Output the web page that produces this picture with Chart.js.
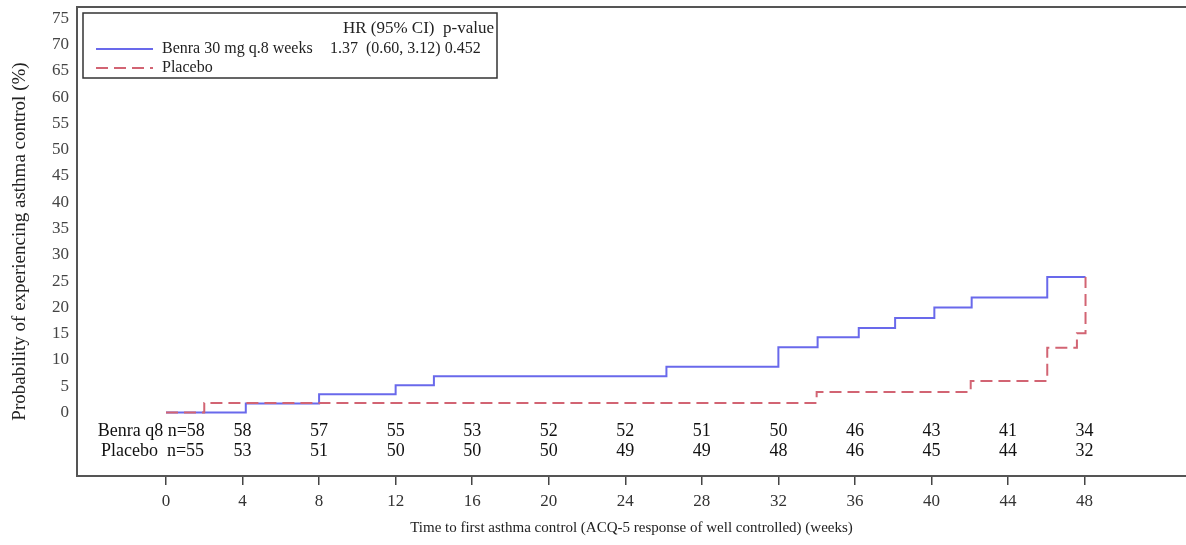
<!DOCTYPE html>
<html>
<head>
<meta charset="utf-8">
<script src="https://cdn.jsdelivr.net/npm/chart.js@4.4.1/dist/chart.umd.min.js"></script>
<style>
  html, body { margin: 0; padding: 0; background: #fff; }
  #wrap { width: 1186px; height: 545px; }
</style>
</head>
<body>
<div id="wrap"><canvas id="c" width="1186" height="545"></canvas></div>
<script>
// ---- data ----
const xTickWeeks = [0, 4, 8, 12, 16, 20, 24, 28, 32, 36, 40, 44, 48];
const yTickValues = [0, 5, 10, 15, 20, 25, 30, 35, 40, 45, 50, 55, 60, 65, 70, 75];

// Kaplan-Meier step points: time (weeks) and cumulative probability (%)
const benraTimes = [0, 4.17, 8.0, 12.0, 14.0, 26.15, 32.0, 34.05, 36.2, 38.1, 40.15, 42.1, 46.05, 48.05];
const benraProb  = [0, 1.72, 3.45, 5.17, 6.9, 8.7, 12.4, 14.3, 16.1, 18.0, 20.0, 21.9, 25.8, 25.8];
const placeboTimes = [0, 2.0, 34.0, 42.05, 46.05, 47.6, 48.05];
const placeboProb  = [0, 1.82, 3.9, 6.0, 12.3, 15.1, 25.8];

// Number at risk table
const atRiskWeeks = [4, 8, 12, 16, 20, 24, 28, 32, 36, 40, 44, 48];
const benraAtRisk = [58, 57, 55, 53, 52, 52, 51, 50, 46, 43, 41, 34];
const placeboAtRisk = [53, 51, 50, 50, 50, 49, 49, 48, 46, 45, 44, 32];
const atRiskLabels = ['Benra q8 n=58', 'Placebo  n=55'];

// Legend / statistics text
const legendHeader = 'HR (95% CI)  p-value';
const legendNames = ['Benra 30 mg q.8 weeks', 'Placebo'];
const legendStats = ['1.37  (0.60, 3.12) 0.452', ''];

const xTitle = 'Time to first asthma control (ACQ-5 response of well controlled) (weeks)';
const yTitle = 'Probability of experiencing asthma control (%)';

const BLUE = 'rgb(105,105,235)';
const RED = 'rgb(210,100,115)';
const FONT = '"Liberation Serif", "Times New Roman", serif';
const DASH = [12, 6];

const toPoints = (xs, ys) => xs.map((x, i) => ({ x: x, y: ys[i] }));

const overlay = {
  id: 'overlay',
  afterDraw(chart) {
    const ctx = chart.ctx;
    const a = chart.chartArea;
    const xs = chart.scales.x, ys = chart.scales.y;
    ctx.save();
    // top frame line
    ctx.strokeStyle = '#555';
    ctx.lineWidth = 2;
    ctx.beginPath();
    ctx.moveTo(a.left - 1, a.top);
    ctx.lineTo(a.right, a.top);
    ctx.stroke();

    // legend box
    const bx = a.left + 6, by = a.top + 6, bw = 414, bh = 65;
    ctx.lineWidth = 1.5;
    ctx.strokeStyle = '#333';
    ctx.strokeRect(bx, by, bw, bh);
    ctx.fillStyle = '#222';
    ctx.textBaseline = 'middle';
    ctx.font = '17px ' + FONT;
    ctx.textAlign = 'right';
    ctx.fillText(legendHeader, bx + 411, by + 16);
    ctx.textAlign = 'left';
    ctx.font = '16px ' + FONT;
    const rows = [by + 36, by + 55];
    const colors = [BLUE, RED];
    for (let i = 0; i < 2; i++) {
      ctx.save();
      ctx.strokeStyle = colors[i];
      ctx.lineWidth = 2;
      if (i === 1) ctx.setLineDash(DASH);
      ctx.beginPath();
      ctx.moveTo(bx + 13, rows[i]);
      ctx.lineTo(bx + 70, rows[i]);
      ctx.stroke();
      ctx.restore();
      ctx.fillText(legendNames[i], bx + 79, rows[i]);
      if (legendStats[i]) ctx.fillText(legendStats[i], bx + 247, rows[i]);
    }

    // number at risk table
    ctx.font = '18px ' + FONT;
    ctx.fillStyle = '#111';
    const rowY = [ys.getPixelForValue(-3.6), ys.getPixelForValue(-7.4)];
    const counts = [benraAtRisk, placeboAtRisk];
    ctx.textAlign = 'left';
    ctx.fillText(atRiskLabels[0], xs.getPixelForValue(-3.57), rowY[0]);
    ctx.fillText(atRiskLabels[1], xs.getPixelForValue(-3.4), rowY[1]);
    ctx.textAlign = 'center';
    for (let r = 0; r < 2; r++) {
      atRiskWeeks.forEach((w, i) => {
        ctx.fillText(String(counts[r][i]), xs.getPixelForValue(w), rowY[r]);
      });
    }
    ctx.restore();
  }
};

new Chart(document.getElementById('c'), {
  type: 'line',
  data: {
    datasets: [
      {
        label: 'Placebo',
        data: toPoints(placeboTimes, placeboProb),
        borderColor: RED,
        borderWidth: 2,
        borderDash: DASH,
        stepped: true,
        pointRadius: 0,
        fill: false,
        order: 0
      },
      {
        label: 'Benra 30 mg q.8 weeks',
        data: toPoints(benraTimes, benraProb),
        borderColor: BLUE,
        borderWidth: 2,
        stepped: true,
        pointRadius: 0,
        fill: false,
        order: 1
      }
    ]
  },
  options: {
    responsive: false,
    animation: false,
    devicePixelRatio: 1,
    layout: { padding: { top: 7, right: 0, left: 0, bottom: 0 } },
    plugins: { legend: { display: false }, tooltip: { enabled: false } },
    scales: {
      x: {
        type: 'linear',
        min: -4.65,
        max: 53.3,
        afterBuildTicks: s => { s.ticks = xTickWeeks.map(v => ({ value: v })); },
        afterFit: s => { s.height = 69; s.paddingLeft = 0; s.paddingRight = 0; },
        grid: { display: true, drawOnChartArea: false, drawTicks: true, tickLength: 9, color: '#444', lineWidth: 1.5 },
        border: { display: true, color: '#555', width: 2 },
        ticks: { color: '#333', font: { family: FONT, size: 17 }, padding: 6, maxRotation: 0 },
        title: { display: true, text: xTitle, color: '#222', font: { family: FONT, size: 15 }, padding: { top: 0, bottom: 8 } }
      },
      y: {
        type: 'linear',
        min: -12.08,
        max: 77.15,
        afterBuildTicks: s => { s.ticks = yTickValues.map(v => ({ value: v })); },
        afterFit: s => { s.width = 77; s.paddingTop = 0; s.paddingBottom = 0; },
        grid: { display: false, drawTicks: false },
        border: { display: true, color: '#555', width: 2 },
        ticks: { color: '#444', font: { family: FONT, size: 17 }, padding: 8 },
        title: { display: true, text: yTitle, color: '#222', font: { family: FONT, size: 19 }, padding: { top: 9, bottom: 0 } }
      }
    }
  },
  plugins: [overlay]
});
</script>
</body>
</html>
